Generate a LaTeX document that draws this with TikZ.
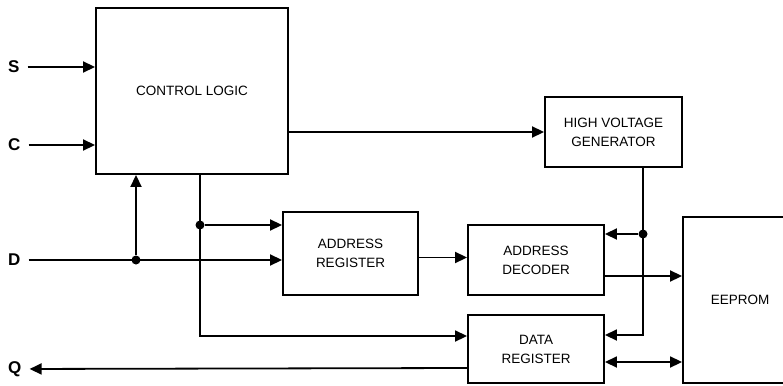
\documentclass[tikz,border=0pt]{standalone}
\usepackage{fontspec}
\setmainfont{Liberation Sans}
\usetikzlibrary{arrows.meta,positioning,calc}
\tikzset{
  blk/.style ={draw,line width=1.9pt,inner sep=0pt,align=center,font=\fontsize{13.5}{19}\selectfont},
  wire/.style={line width=1.8pt},
  ar/.style  ={wire,-{Triangle[length=12pt,width=11pt]}},
  dar/.style ={wire,{Triangle[length=12pt,width=11pt]}-{Triangle[length=12pt,width=11pt]}},
  dot/.style ={circle,fill=black,inner sep=0pt,minimum size=9pt},
  pin/.style ={font=\fontsize{17}{20}\selectfont\bfseries,inner xsep=8pt,inner ysep=0pt,anchor=west},
}

\begin{document}
\begin{tikzpicture}[x=1pt,y=-1pt]
  \useasboundingbox (0,0) rectangle (783,385);
  % blocks
  \node[blk,minimum width=192pt,minimum height=166pt] (ctrl) at (192,91) {CONTROL LOGIC};
  \node[blk,minimum width=137pt,minimum height=70pt] (hvg) at (613.5,132) {HIGH VOLTAGE\\GENERATOR};
  \node[blk,minimum width=135pt,minimum height=83pt] (areg) at (350.5,253.5) {ADDRESS\\REGISTER};
  \node[blk,minimum width=136pt,minimum height=70pt] (adec) at (536,260) {ADDRESS\\DECODER};
  \node[blk,minimum width=136pt,minimum height=68pt] (dreg) at (536,349) {DATA\\REGISTER};
  \begin{scope}
    \clip (0,0) rectangle (783,385);
    \node[blk,minimum width=114pt,minimum height=166pt] (eep) at (740,300) {EEPROM};
  \end{scope}
  % pins
  \node[pin] (S) at (0,67) {S};
  \node[pin] (C) at (0,145) {C};
  \node[pin] (D) at (0,260) {D};
  \node[pin] (Q) at (0,369) {Q};
  % junctions
  \node[dot] (dj) at (136,260) {};
  \node[dot] (cj) at (200,225) {};
  \node[dot] (hj) at (643,234) {};
  \coordinate (cb) at (200,336);
  \coordinate (hb) at (643,335);
  % wires
  \draw[ar] (S) -- (S -| ctrl.west);
  \draw[ar] (C) -- (C -| ctrl.west);
  \draw[ar] (D) -- (D -| areg.west);
  \draw[ar] (dj) -- (dj |- ctrl.south);
  \draw[ar] (cj |- ctrl.south) -- (cb) -- (cb -| dreg.west);
  \draw[ar] (cj) -- (cj -| areg.west);
  \draw[ar] (ctrl.east |- hvg.west) -- (hvg.west);
  \draw[ar] (hvg.south -| hj) -- (hb) -- (hb -| dreg.east);
  \draw[ar] (hj) -- (hj -| adec.east);
  \draw[ar] ([yshift=-4pt]areg.east) -- ([yshift=-4pt]areg.east -| adec.west);
  \draw[ar] ([yshift=-16pt]adec.east) -- ([yshift=-16pt]adec.east -| eep.west);
  \draw[dar] ([yshift=-13pt]dreg.east) -- ([yshift=-13pt]dreg.east -| eep.west);
  \draw[ar] ([yshift=-19pt]dreg.west) -- (Q);
\end{tikzpicture}
\end{document}
